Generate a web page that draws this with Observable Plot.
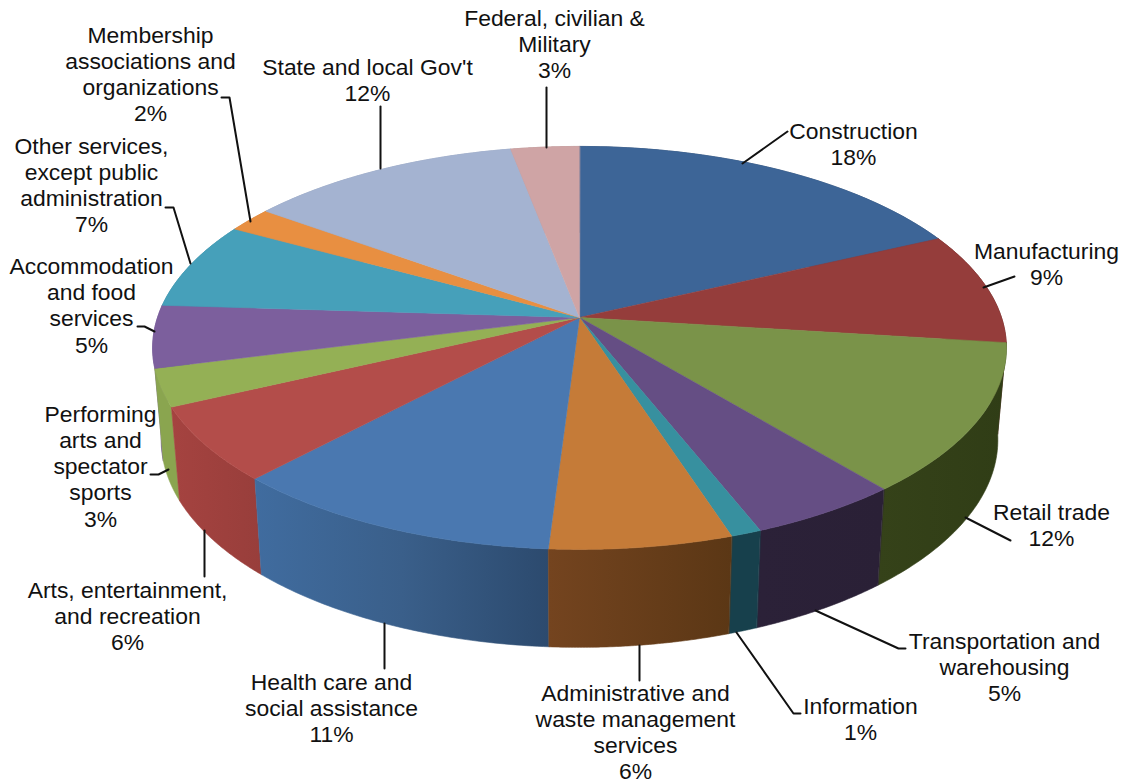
<!DOCTYPE html>
<html>
<head>
<meta charset="utf-8">
<script src="https://cdn.jsdelivr.net/npm/d3@7"></script>
<script src="https://cdn.jsdelivr.net/npm/@observablehq/plot@0.6"></script>
<style>
  html, body { margin: 0; padding: 0; background: #fff; }
  svg { display: block; }
</style>
</head>
<body>
<div id="chart"></div>
<script>
// Employment by sector, drawn clockwise from twelve o'clock as a tilted pie.
const sectors = [
  "Construction", "Manufacturing", "Retail trade", "Transportation and\nwarehousing",
  "Information", "Administrative and\nwaste management\nservices",
  "Health care and\nsocial assistance", "Arts, entertainment,\nand recreation",
  "Performing\narts and\nspectator\nsports", "Accommodation\nand food\nservices",
  "Other services,\nexcept public\nadministration", "Membership\nassociations and\norganizations",
  "State and local Gov't", "Federal, civilian &\nMilitary"
];
const percents = [18, 9, 12, 5, 1, 6, 11, 6, 3, 5, 7, 2, 12, 3];

const faceColors = [
  "#3d6597", "#953d3b", "#7a9349", "#654e84", "#37909f", "#c57b38", "#4a78b0",
  "#b34d4a", "#94b055", "#7c5f9d", "#46a0ba", "#e88f41", "#a4b3d1", "#cfa4a5"
];
// Side wall shading, left to right across each slice.
const wallShades = [
  ["#2b4669", "#2b4669"], ["#5c2522", "#5c2522"], ["#354219", "#303d16"], ["#2b2138", "#2a2036"],
  ["#17404c", "#17404c"], ["#74441f", "#5b3715"], ["#406c9f", "#3a5f8a", "#2c4a6e"],
  ["#a54340", "#983e3b"], ["#8aa54f", "#8aa54f"], ["#6f5490", "#6f5490"],
  ["#3a8aa0", "#3a8aa0"], ["#c87a35", "#c87a35"], ["#8f9db8", "#8f9db8"], ["#b08a8b", "#b08a8b"]
];

// Perspective of the disc, in units of the pie radius.
const tilt = 0.151;
const wallScaleX = 0.98, wallScaleY = 1.03, wallDrop = 0.462;

// Page placement of the pie centre and radii, used by the scales and annotations.
const width = 1123, height = 783;
const cx = 579, cy = 317, rx = 422, ry = 196.9;
const toX = (px) => (px - cx) / rx;
const toY = (py) => (cy - py) / ry;

const project = (theta) => {
  const X = Math.sin(theta), Y = Math.cos(theta), w = 1 + tilt * Y;
  return [X / w, Y / w];
};
const lower = ([u, v]) => [u * wallScaleX, v * wallScaleY - wallDrop];

// Slices with their start and end angles.
let running = 0;
const slices = percents.map((p, i) => {
  const a0 = (running / 100) * 2 * Math.PI;
  running += p;
  const a1 = (running / 100) * 2 * Math.PI;
  const arc = d3.range(0, 61).map((k) => project(a0 + ((a1 - a0) * k) / 60));
  return { i, p, a0, a1, arc };
});

const toRows = (pts) => pts.map(([u, v]) => ({ u, v }));
const polygon = (rows, fill) =>
  Plot.line(rows, { x: "u", y: "v", fill, stroke: fill, strokeWidth: 0.6, curve: "linear-closed" });

// Walls run from the back of the disc to the front, so nearer slices overlap further ones.
const frontness = (s) => -Math.abs((s.a0 + s.a1) / 2 - Math.PI);
const wallMarks = [...slices]
  .sort((a, b) => frontness(a) - frontness(b))
  .map((s) => polygon(toRows([...s.arc, ...s.arc.map(lower).reverse()]), `url(#wall-${s.i})`));

const faceMarks = slices.map((s) => polygon(toRows([[0, 0], ...s.arc]), faceColors[s.i]));

const wallGradients = () => {
  const defs = d3.create("svg:defs");
  wallShades.forEach((stops, i) => {
    const g = defs.append("linearGradient").attr("id", `wall-${i}`).attr("x1", 0).attr("x2", 1).attr("y1", 0).attr("y2", 0);
    stops.forEach((c, k) => g.append("stop").attr("offset", k / (stops.length - 1)).attr("stop-color", c));
  });
  return defs.node();
};

// Label block centres, in sector order.
const labelAt = [
  [853, 143], [1046, 263.5], [1051, 524], [1004, 666.5], [860, 718], [635, 731], [331, 707.5],
  [127, 615], [100, 465.5], [91, 304.5], [91, 184], [150, 73], [367, 79.5], [554, 43]
];
// Leader line vertices from the pie rim out to each label.
const leaderAt = [
  [[742, 163], [787, 131]],
  [[983, 287], [1014, 276]],
  [[965, 517], [1010, 540]],
  [[815, 610], [898, 648], [905, 648]],
  [[736, 632], [793, 713], [800, 713]],
  [[639, 645], [639, 680]],
  [[384, 623], [384, 668]],
  [[204, 530], [204, 576]],
  [[168, 469], [158, 474], [150, 474]],
  [[154, 331], [144, 326], [137, 326]],
  [[190, 263], [173, 207], [165, 207]],
  [[250, 221], [229, 97], [221, 97]],
  [[380, 168], [380, 106]],
  [[546, 147], [546, 87]]
];

const leaderRows = leaderAt.flatMap((pts, i) => pts.map(([px, py]) => ({ i, u: toX(px), v: toY(py) })));
const labelRows = sectors.map((name, i) => ({
  u: toX(labelAt[i][0]),
  v: toY(labelAt[i][1]),
  text: `${name}\n${percents[i]}%`
}));

const chart = Plot.plot({
  width,
  height,
  margin: 0,
  style: { background: "#fff" },
  x: { axis: null, domain: [toX(0), toX(width)], range: [0, width] },
  y: { axis: null, domain: [toY(0), toY(height)], range: [0, height] },
  marks: [
    wallGradients,
    ...wallMarks,
    ...faceMarks,
    Plot.line(leaderRows, { x: "u", y: "v", z: "i", stroke: "#111", strokeWidth: 2, curve: "linear" }),
    Plot.text(labelRows, {
      x: "u",
      y: "v",
      text: "text",
      fill: "#111",
      fontFamily: "Liberation Sans",
      fontSize: 22.9,
      lineHeight: 1.14,
      textAnchor: "middle"
    })
  ]
});
document.getElementById("chart").append(chart);
</script>
</body>
</html>
